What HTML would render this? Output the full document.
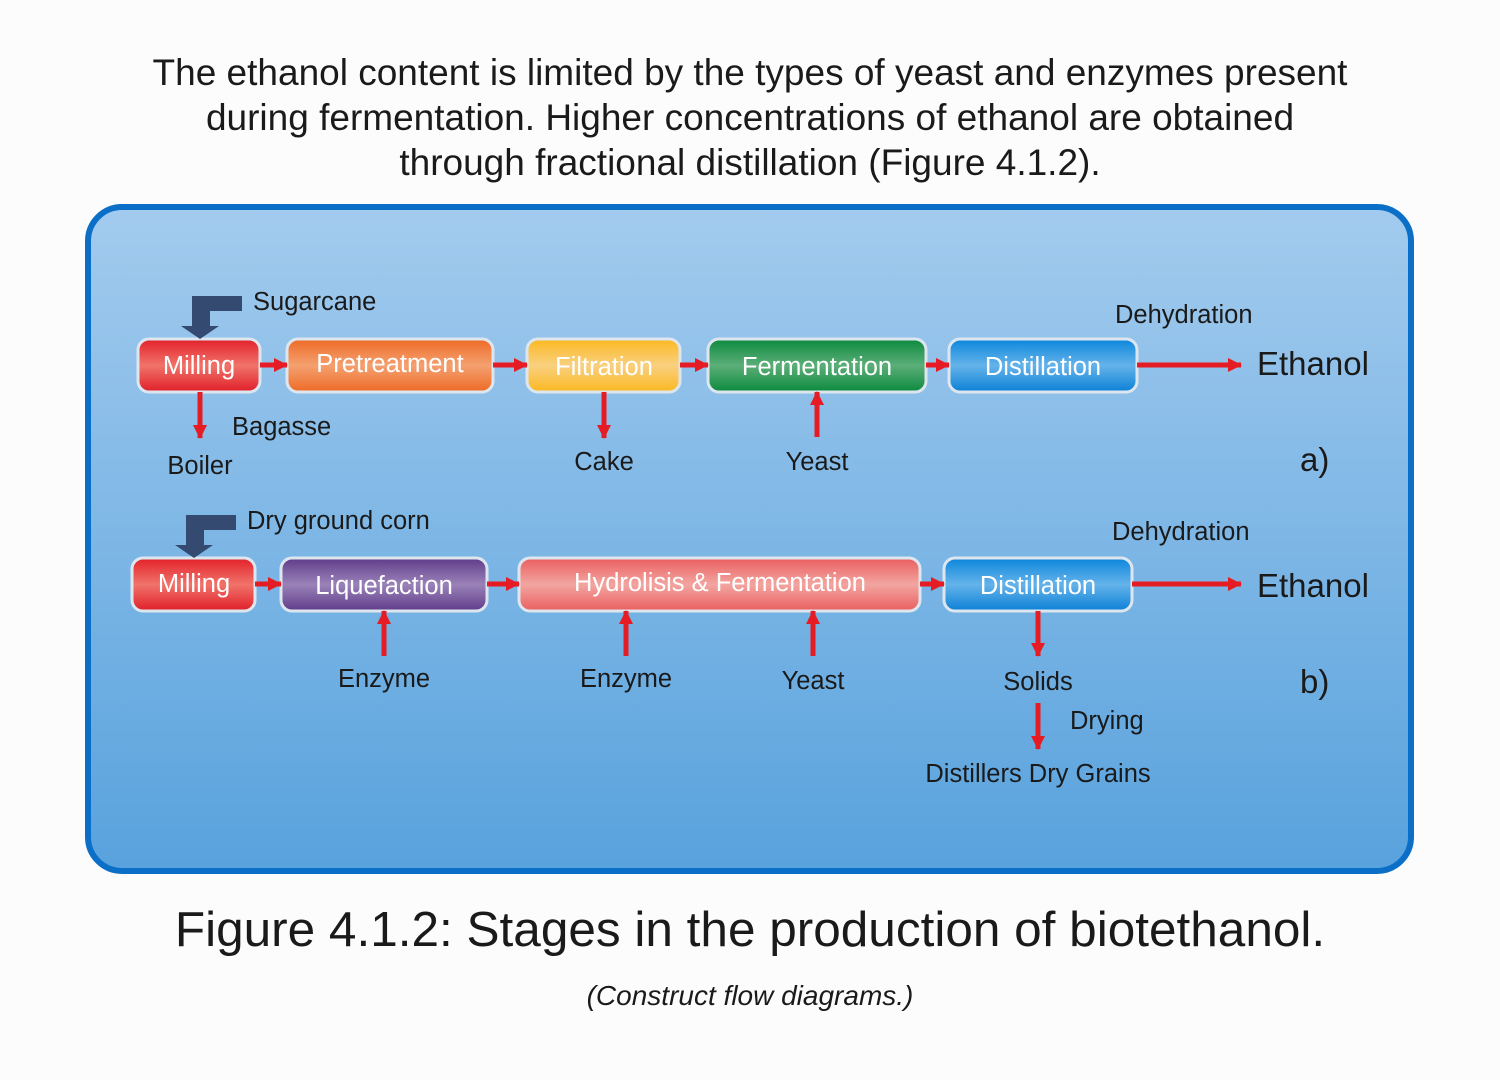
<!DOCTYPE html>
<html><head><meta charset="utf-8"><style>
html,body{margin:0;padding:0;background:#fcfcfc;}
svg{display:block;}
text{font-family:"Liberation Sans",Arial,sans-serif;}
</style></head><body>
<svg width="1500" height="1080" viewBox="0 0 1500 1080" xmlns="http://www.w3.org/2000/svg">
<defs>
<linearGradient id="bg" x1="0" y1="0" x2="0" y2="1"><stop offset="0" stop-color="#a3cbee"/><stop offset="1" stop-color="#58a2dd"/></linearGradient>
<linearGradient id="gR" x1="0" y1="0" x2="0" y2="1"><stop offset="0" stop-color="#e3202a"/><stop offset="0.5" stop-color="#f0736a"/><stop offset="1" stop-color="#e01e28"/></linearGradient>
<linearGradient id="gO" x1="0" y1="0" x2="0" y2="1"><stop offset="0" stop-color="#ee6a25"/><stop offset="0.5" stop-color="#f4a070"/><stop offset="1" stop-color="#ee6a25"/></linearGradient>
<linearGradient id="gY" x1="0" y1="0" x2="0" y2="1"><stop offset="0" stop-color="#fbb820"/><stop offset="0.5" stop-color="#f9d080"/><stop offset="1" stop-color="#fbb820"/></linearGradient>
<linearGradient id="gG" x1="0" y1="0" x2="0" y2="1"><stop offset="0" stop-color="#0b8a3e"/><stop offset="0.5" stop-color="#5cae78"/><stop offset="1" stop-color="#0b8a3e"/></linearGradient>
<linearGradient id="gB" x1="0" y1="0" x2="0" y2="1"><stop offset="0" stop-color="#0b86dc"/><stop offset="0.5" stop-color="#65b3ea"/><stop offset="1" stop-color="#0b80d6"/></linearGradient>
<linearGradient id="gP" x1="0" y1="0" x2="0" y2="1"><stop offset="0" stop-color="#5f3c8a"/><stop offset="0.5" stop-color="#9a82b8"/><stop offset="1" stop-color="#5f3c8a"/></linearGradient>
<linearGradient id="gS" x1="0" y1="0" x2="0" y2="1"><stop offset="0" stop-color="#ea5e60"/><stop offset="0.5" stop-color="#f2a5a0"/><stop offset="1" stop-color="#ea5e60"/></linearGradient>
<marker id="ah" markerUnits="userSpaceOnUse" markerWidth="16" markerHeight="16" refX="13" refY="8" orient="auto"><path d="M0,1 L14,8 L0,15 Z" fill="#e51c24"/></marker>
</defs>

<text x="750" y="85" font-size="37" text-anchor="middle" fill="#1a1a1a">The ethanol content is limited by the types of yeast and enzymes present</text>
<text x="750" y="130" font-size="37" text-anchor="middle" fill="#1a1a1a">during fermentation. Higher concentrations of ethanol are obtained</text>
<text x="750" y="175" font-size="37" text-anchor="middle" fill="#1a1a1a">through fractional distillation (Figure 4.1.2).</text>

<rect x="88" y="207" width="1323" height="664" rx="34" fill="url(#bg)" stroke="#0b6fc8" stroke-width="6"/>

<g stroke="#dde6ee" stroke-width="3">
<rect x="138" y="339" width="122" height="53" rx="11" fill="url(#gR)"/>
<rect x="287" y="339" width="206" height="53" rx="11" fill="url(#gO)"/>
<rect x="527" y="339" width="153" height="53" rx="11" fill="url(#gY)"/>
<rect x="708" y="339" width="218" height="53" rx="11" fill="url(#gG)"/>
<rect x="949" y="339" width="188" height="53" rx="11" fill="url(#gB)"/>
<rect x="132" y="558" width="123" height="53" rx="11" fill="url(#gR)"/>
<rect x="281" y="558" width="206" height="53" rx="11" fill="url(#gP)"/>
<rect x="519" y="558" width="401" height="53" rx="11" fill="url(#gS)"/>
<rect x="944" y="558" width="188" height="53" rx="11" fill="url(#gB)"/>
</g>
<g font-size="25.5" fill="#fff" text-anchor="middle">
<text x="199" y="374">Milling</text>
<text x="390" y="372">Pretreatment</text>
<text x="604" y="375">Filtration</text>
<text x="817" y="375">Fermentation</text>
<text x="1043" y="375">Distillation</text>
<text x="194" y="592">Milling</text>
<text x="384" y="594">Liquefaction</text>
<text x="720" y="591">Hydrolisis &amp; Fermentation</text>
<text x="1038" y="594">Distillation</text>
</g>

<g stroke="#e51c24" stroke-width="5" marker-end="url(#ah)">
<line x1="260" y1="365" x2="287" y2="365"/>
<line x1="493" y1="365" x2="527" y2="365"/>
<line x1="680" y1="365" x2="708" y2="365"/>
<line x1="926" y1="365" x2="949" y2="365"/>
<line x1="1137" y1="365" x2="1241" y2="365"/>
<line x1="200" y1="392" x2="200" y2="438"/>
<line x1="604" y1="392" x2="604" y2="438"/>
<line x1="817" y1="437" x2="817" y2="392"/>
<line x1="255" y1="584" x2="281" y2="584"/>
<line x1="487" y1="584" x2="519" y2="584"/>
<line x1="920" y1="584" x2="944" y2="584"/>
<line x1="1132" y1="584" x2="1241" y2="584"/>
<line x1="384" y1="656" x2="384" y2="611"/>
<line x1="626" y1="656" x2="626" y2="611"/>
<line x1="813" y1="656" x2="813" y2="611"/>
<line x1="1038" y1="611" x2="1038" y2="656"/>
<line x1="1038" y1="703" x2="1038" y2="749"/>
</g>

<g fill="#344a70">
<path d="M192,296 H242 V311 H210 V326 H219 L200,339 L181,326 H192 Z"/>
<path d="M186,515 H236 V530 H204 V545 H213 L194,558 L175,545 H186 Z"/>
</g>

<g font-size="25.5" fill="#1a1a1a">
<text x="253" y="310">Sugarcane</text>
<text x="232" y="435">Bagasse</text>
<text x="200" y="474" text-anchor="middle">Boiler</text>
<text x="604" y="470" text-anchor="middle">Cake</text>
<text x="817" y="470" text-anchor="middle">Yeast</text>
<text x="1115" y="323">Dehydration</text>
<text x="247" y="529">Dry ground corn</text>
<text x="384" y="687" text-anchor="middle">Enzyme</text>
<text x="626" y="687" text-anchor="middle">Enzyme</text>
<text x="813" y="689" text-anchor="middle">Yeast</text>
<text x="1038" y="690" text-anchor="middle">Solids</text>
<text x="1070" y="729">Drying</text>
<text x="1038" y="782" text-anchor="middle">Distillers Dry Grains</text>
<text x="1112" y="540">Dehydration</text>
</g>
<g font-size="33" fill="#1a1a1a">
<text x="1257" y="375">Ethanol</text>
<text x="1257" y="597">Ethanol</text>
<text x="1300" y="471">a)</text>
<text x="1300" y="693">b)</text>
</g>

<text x="750" y="946" font-size="49.5" text-anchor="middle" fill="#1a1a1a">Figure 4.1.2: Stages in the production of biotethanol.</text>
<text x="750" y="1005" font-size="28" font-style="italic" text-anchor="middle" fill="#1a1a1a">(Construct flow diagrams.)</text>
</svg>
</body></html>
